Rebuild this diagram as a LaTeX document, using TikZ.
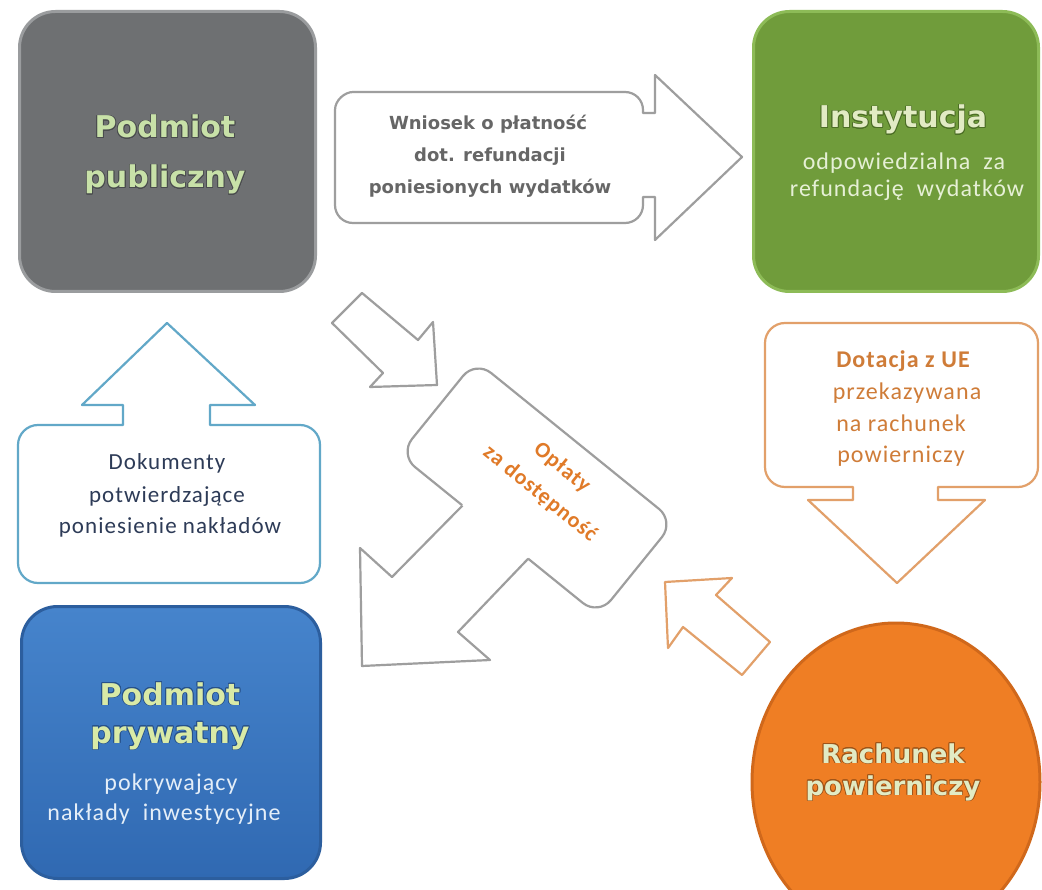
\documentclass[tikz,border=0pt]{standalone}
\usepackage{fontspec}
\usepackage{contour}
\contourlength{0.8pt}
\contournumber{16}
\setmainfont{Carlito}
\newfontfamily\headfont{DejaVu Sans}
\newfontfamily\bodyfont{Carlito}[LetterSpace=4.5]
\usetikzlibrary{calc,shapes.geometric}
\definecolor{pubgray}{HTML}{6E7072}
\definecolor{pubrim}{HTML}{9A9C9E}
\definecolor{instgreen}{HTML}{709C3B}
\definecolor{instrim}{HTML}{8DBB57}
\definecolor{privtop}{HTML}{4684CC}
\definecolor{privbot}{HTML}{3069B2}
\definecolor{privrim}{HTML}{2C5E9E}
\definecolor{accorange}{HTML}{EF7E24}
\definecolor{accrim}{HTML}{D0681B}
\definecolor{headgreen}{HTML}{C8E1A8}
\definecolor{headlime}{HTML}{D9EAA6}
\definecolor{headpale}{HTML}{E2EBC4}
\definecolor{subpale}{HTML}{E6F0D6}
\definecolor{subblue}{HTML}{E4EEF8}
\definecolor{edgegray}{HTML}{4A4C4E}
\definecolor{edgegreen}{HTML}{4C6E26}
\definecolor{edgeblue}{HTML}{27518A}
\definecolor{edgeorange}{HTML}{9E5418}
\definecolor{linegray}{HTML}{9E9E9E}
\definecolor{lineblue}{HTML}{62A8C8}
\definecolor{lineorange}{HTML}{E2A06A}
\definecolor{txtgray}{HTML}{666666}
\definecolor{txtnavy}{HTML}{2D3B57}
\definecolor{txtorange}{HTML}{CF7C38}
\definecolor{txtorangeb}{HTML}{E07A28}
\begin{document}
\begin{tikzpicture}[x=1pt,y=-1pt,
  box/.style={rounded corners=36pt, inner sep=0pt, outer sep=0pt, line width=3pt},
  head/.style={font=\headfont\bfseries\fontsize{30}{36}\selectfont, anchor=base, inner sep=0pt},
  headsmall/.style={font=\headfont\bfseries\fontsize{26}{30}\selectfont, anchor=base, inner sep=0pt},
  sub/.style={font=\bodyfont\fontsize{24}{28}\selectfont, anchor=base, inner sep=0pt},
  calltext/.style={font=\bodyfont\fontsize{23}{28}\selectfont, anchor=base, inner sep=0pt},
  graytext/.style={font=\headfont\bfseries\fontsize{18}{20}\selectfont, anchor=base, inner sep=0pt, text=txtgray},
  callout/.style={line width=2.2pt, line join=round, fill=white}
]
\useasboundingbox[fill=white] (0,0) rectangle (1042,890);

% ---- main boxes
\node[box, fill=pubgray, draw=pubrim, minimum width=296pt, minimum height=280pt] (pub) at (167.5,151.5) {};
\node[box, fill=instgreen, draw=instrim, minimum width=285pt, minimum height=280pt] (inst) at (896,151.5) {};
\node[box, top color=privtop, bottom color=privbot, draw=privrim, minimum width=299pt, minimum height=272pt] (priv) at (171,742.5) {};
\node[ellipse, fill=accorange, draw=accrim, line width=3pt, minimum width=288pt, minimum height=318pt, inner sep=0pt, outer sep=0pt] (acc) at (896,782) {};

% ---- texts of main boxes
\node[head, text=headgreen] (pubA) at (165,138) {\contour{edgegray}{Podmiot}};
\node[head, text=headgreen] (pubB) at (165,188) {\contour{edgegray}{publiczny}};
\node[head, text=headpale] (instA) at (903,128) {\contour{edgegreen}{Instytucja}};
\node[sub, text=subpale] (instB) at (904,170) {odpowiedzialna\ \ za};
\node[sub, text=subpale] (instC) at (907,197) {refundację\ \ wydatków};
\node[head, text=headlime] (privA) at (170,705) {\contour{edgeblue}{Podmiot}};
\node[head, text=headlime] (privB) at (170,743) {\contour{edgeblue}{prywatny}};
\node[sub, text=subblue] (privC) at (171,790) {pokrywający};
\node[sub, text=subblue] (privD) at (164,820) {nakłady\ \ inwestycyjne};
\node[headsmall, text=headpale] (accA) at (893,763) {\contour{edgeorange}{Rachunek}};
\node[headsmall, text=headpale] (accB) at (893,795) {\contour{edgeorange}{powierniczy}};

% ---- top callout (grey, pointing right)
\draw[callout, draw=linegray] (335,110) .. controls (335,100) and (345,92) .. (353,92) -- (625,92) .. controls (635,92) and (643,100) .. (643,110) -- (643,113) -- (655,113) -- (655,75) -- (742,157) -- (655,240) -- (655,197) -- (643,197) -- (643,205) .. controls (643,215) and (635,223) .. (625,223) -- (353,223) .. controls (343,223) and (335,215) .. (335,205) -- cycle;
\node[graytext] (tcA) at (488,130) {Wniosek o płatność};
\node[graytext] (tcB) at (490,162) {dot. refundacji};
\node[graytext] (tcC) at (490,194) {poniesionych wydatków};

% ---- right callout (orange, pointing down)
\draw[callout, draw=lineorange] (765,343) .. controls (765,332) and (774,323) .. (785,323) -- (1018,323) .. controls (1029,323) and (1038,332) .. (1038,343) -- (1038,467) .. controls (1038,478) and (1029,487) .. (1018,487) -- (938,487) -- (938,500) -- (985,500) -- (897,583) -- (808,500) -- (853,500) -- (853,487) -- (785,487) .. controls (774,487) and (765,478) .. (765,467) -- cycle;
\node[sub, text=txtorange, font=\bodyfont\bfseries\fontsize{24}{28}\selectfont] (rcA) at (903,368) {Dotacja z UE};
\node[sub, text=txtorange] (rcB) at (907,400) {przekazywana};
\node[sub, text=txtorange] (rcC) at (901,432) {na rachunek};
\node[sub, text=txtorange] (rcD) at (901,463) {powierniczy};

% ---- left callout (blue, pointing up)
\draw[callout, draw=lineblue] (18,445) .. controls (18,434) and (27,425) .. (38,425) -- (123,425) -- (123,405) -- (82,405) -- (167,323) -- (255,405) -- (210,405) -- (210,425) -- (300,425) .. controls (311,425) and (320,434) .. (320,445) -- (320,563) .. controls (320,574) and (311,583) .. (300,583) -- (38,583) .. controls (27,583) and (18,574) .. (18,563) -- cycle;
\node[calltext, text=txtnavy] (lcA) at (167,470) {Dokumenty};
\node[calltext, text=txtnavy] (lcB) at (167,502) {potwierdzające};
\node[calltext, text=txtnavy] (lcC) at (170,533) {poniesienie nakładów};

% ---- arrow from public entity into the centre callout
\draw[callout, draw=linegray] (332,323) -- (362,293) -- (418,340) -- (433,322) -- (437,385) -- (370,387) -- (383,373) -- cycle;

% ---- centre callout (rotated) with arrow down-left
\node[draw=linegray, line width=2.2pt, fill=white, rounded corners=20pt, minimum width=256pt, minimum height=121pt, rotate=-39, inner sep=0pt, outer sep=0pt] (cc) at (537,488) {};
\coordinate (ccA) at ($(cc.south west)!0.317!(cc.south east)$);
\coordinate (ccB) at ($(cc.south west)!0.647!(cc.south east)$);
\fill[white] ($(ccA)+(2.5,-3.2)$) -- (392,577) -- (360,548) -- (362,666) -- (490,660) -- (458,632) -- ($(ccB)+(2.5,-3.2)$) -- cycle;
\draw[linegray, line width=2.2pt, line join=round] (ccA) -- (392,577) -- (360,548) -- (362,666) -- (490,660) -- (458,632) -- (ccB);
\node[rotate=-39, text=txtorangeb, inner sep=0pt, font=\bodyfont\bfseries\fontsize{22}{30}\selectfont] (ccT1) at (562,468) {Opłaty};
\node[rotate=-39, text=txtorangeb, inner sep=0pt, font=\bodyfont\bfseries\fontsize{22}{30}\selectfont] (ccT2) at (540,494) {za dostępność};

% ---- orange arrow from the trust account into the centre callout
\draw[callout, draw=lineorange] (770,642) -- (716,595) -- (732,578) -- (665,582) -- (668,648) -- (683,627) -- (742,675) -- cycle;
\end{tikzpicture}
\end{document}
